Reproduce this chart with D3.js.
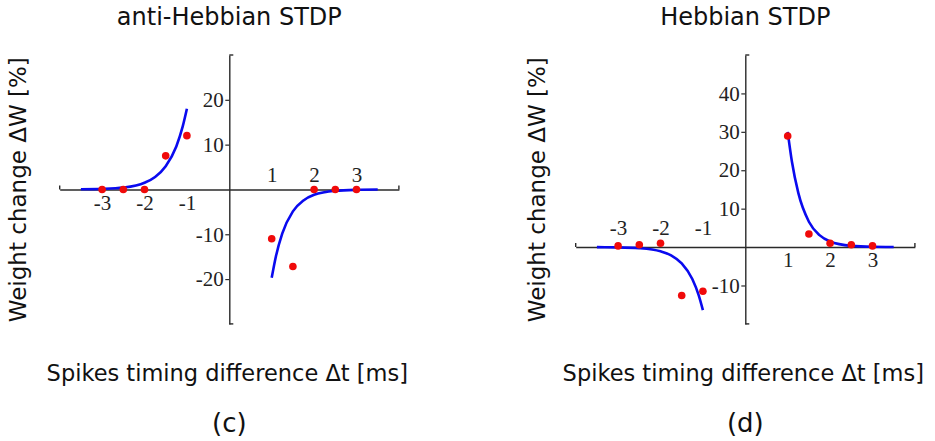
<!DOCTYPE html>
<html>
<head>
<meta charset="utf-8">
<script src="https://cdn.jsdelivr.net/npm/d3@7"></script>
<style>
  html, body { margin: 0; padding: 0; background: #fff; }
  svg { display: block; }
</style>
</head>
<body>
<svg id="fig" width="935" height="441"></svg>
<script>
// ---- data ----------------------------------------------------------------
const timingTicks = [-3, -2, -1, 1, 2, 3];
const antiTicksW = [-20, -10, 10, 20];
const hebbTicksW = [-10, 10, 20, 30, 40];

// measured weight changes (%) at each spike-timing difference (ms)
const measuredDt = [-3, -2.5, -2, -1.5, -1, 1, 1.5, 2, 2.5, 3];
const antiDW = [0, 0, 0, 7.5, 12, -11, -17.2, 0, 0, 0];
const hebbDW = [0.3, 0.6, 1.0, -12.6, -11.5, 28.9, 3.4, 1.0, 0.6, 0.3];

// exponential STDP windows, sampled
const fitPreDt = [-3.5, -3, -2.5, -2, -1.75, -1.5, -1.25, -1.1, -1];
const fitPostDt = [1, 1.1, 1.25, 1.5, 1.75, 2, 2.5, 3, 3.5];
const antiFitPre = [0.03, 0.12, 0.42, 1.5, 2.8, 5.2, 9.6, 14.0, 18];
const antiFitPost = [-19.7, -14.9, -9.8, -4.9, -2.45, -1.2, -0.3, -0.08, -0.02];
const hebbFitPre = [-0.02, -0.07, -0.29, -1.1, -2.15, -4.25, -8.3, -12.5, -16.4];
const hebbFitPost = [30, 22.2, 14.1, 6.6, 3.1, 1.45, 0.32, 0.07, 0.02];

const titles = ["anti-Hebbian STDP", "Hebbian STDP"];
const panelTags = ["(c)", "(d)"];

// ---- styling ----------------------------------------------------------------
const sansFont = "'DejaVu Sans', Verdana, sans-serif";
const serifFont = "'Liberation Serif', 'Times New Roman', serif";
const axisColor = "#2a2a2a";
const lineColor = "#0a0aef";
const dotColor = "#f00a0a";
const plainNumber = d => String(d);   // keeps an ASCII hyphen for negatives

const svg = d3.select("#fig");

function drawPanel(cfg) {
  const x = d3.scaleLinear().domain([-4, 4]).range(cfg.xRange);
  const y = d3.scaleLinear().domain(cfg.wDomain).range([323.9, 55]);
  const g = svg.append("g");
  const x0 = x(0), y0 = y(0);

  // horizontal axis line
  g.append("g")
    .attr("transform", `translate(0,${y0})`)
    .call(d3.axisBottom(x).tickValues([]).tickSizeOuter(0))
    .call(s => s.select(".domain").attr("stroke", axisColor).attr("stroke-width", 1.4));

  // end caps of the horizontal axis
  g.selectAll("line.xcap").data(x.domain()).join("line")
    .attr("x1", d => x(d)).attr("x2", d => x(d))
    .attr("y1", y0).attr("y2", y0 - 4)
    .attr("stroke", axisColor).attr("stroke-width", 1.4);

  // time tick labels: one side of the axis for negative, the other for positive
  const below = timingTicks.filter(cfg.belowFilter);
  const above = timingTicks.filter(d => !cfg.belowFilter(d));
  g.append("g")
    .attr("transform", `translate(0,${y0})`)
    .call(d3.axisBottom(x).tickValues(below).tickSize(0).tickPadding(cfg.belowPad).tickFormat(plainNumber))
    .call(s => s.select(".domain").remove());
  g.append("g")
    .attr("transform", `translate(0,${y0})`)
    .call(d3.axisTop(x).tickValues(above).tickSize(0).tickPadding(cfg.abovePad).tickFormat(plainNumber))
    .call(s => s.select(".domain").remove());

  // vertical axis
  g.append("g")
    .attr("transform", `translate(${x0},0)`)
    .call(d3.axisLeft(y).tickValues(cfg.wTicks).tickSize(4).tickPadding(1.5).tickSizeOuter(0).tickFormat(plainNumber))
    .call(s => s.select(".domain").attr("stroke", axisColor).attr("stroke-width", 1.4))
    .call(s => s.selectAll(".tick line").attr("stroke", axisColor).attr("stroke-width", 1.2));

  // end caps of the vertical axis
  g.selectAll("line.ycap").data(y.domain()).join("line")
    .attr("x1", x0).attr("x2", x0 + 4)
    .attr("y1", d => y(d)).attr("y2", d => y(d))
    .attr("stroke", axisColor).attr("stroke-width", 1.4);

  g.selectAll(".tick text")
    .attr("font-family", serifFont)
    .attr("font-size", 21)
    .attr("fill", "#222");

  // fitted curves
  const line = d3.line()
    .x(d => x(d[0])).y(d => y(d[1]))
    .curve(d3.curveMonotoneX);
  [[fitPreDt, cfg.fitPre], [fitPostDt, cfg.fitPost]].forEach(([ts, ws]) => {
    g.append("path")
      .datum(d3.zip(ts, ws))
      .attr("d", line)
      .attr("fill", "none")
      .attr("stroke", lineColor)
      .attr("stroke-width", 2.6)
      .attr("stroke-linecap", "butt");
  });

  // measured points
  g.selectAll("circle.pt").data(d3.zip(measuredDt, cfg.dw)).join("circle")
    .attr("cx", d => x(d[0]))
    .attr("cy", d => y(d[1]))
    .attr("r", 3.8)
    .attr("fill", dotColor);

  const cx = (cfg.xRange[0] + cfg.xRange[1]) / 2;

  // title
  svg.append("text")
    .attr("x", cx).attr("y", 25)
    .attr("text-anchor", "middle")
    .attr("font-family", sansFont).attr("font-size", 24).attr("fill", "#111")
    .text(cfg.title);

  // axis titles
  svg.append("text")
    .attr("transform", `translate(${cfg.yLabelX},189.7) rotate(-90)`)
    .attr("text-anchor", "middle")
    .attr("font-family", sansFont).attr("font-size", 23).attr("fill", "#111")
    .text("Weight change ΔW [%]");

  svg.append("text")
    .attr("x", cx - 2).attr("y", 381)
    .attr("text-anchor", "middle")
    .attr("font-family", sansFont).attr("font-size", 22.5).attr("fill", "#111")
    .text("Spikes timing difference Δt [ms]");

  svg.append("text")
    .attr("x", cx).attr("y", 432)
    .attr("text-anchor", "middle")
    .attr("font-family", sansFont).attr("font-size", 26).attr("fill", "#111")
    .text(cfg.tag);
}

drawPanel({
  xRange: [59.7, 398.9],
  wDomain: [-30, 30],
  wTicks: antiTicksW,
  belowFilter: d => d < 0,
  belowPad: 5.8,
  abovePad: 7.6,
  fitPre: antiFitPre,
  fitPost: antiFitPost,
  dw: antiDW,
  title: titles[0],
  tag: panelTags[0],
  yLabelX: 26
});

drawPanel({
  xRange: [575.7, 914.9],
  wDomain: [-20, 50],
  wTicks: hebbTicksW,
  belowFilter: d => d > 0,
  belowPad: 5.1,
  abovePad: 11.7,
  fitPre: hebbFitPre,
  fitPost: hebbFitPost,
  dw: hebbDW,
  title: titles[1],
  tag: panelTags[1],
  yLabelX: 545
});
</script>
</body>
</html>
